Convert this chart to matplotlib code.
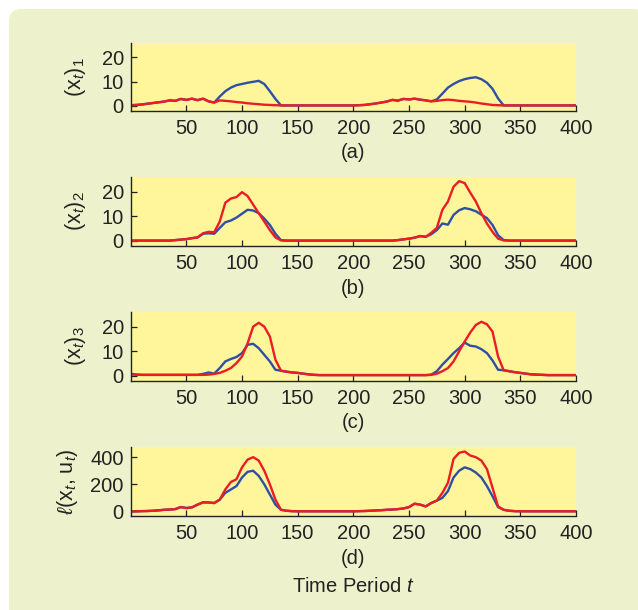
import matplotlib
matplotlib.use("Agg")
import matplotlib.pyplot as plt
from matplotlib.patches import FancyBboxPatch
import numpy as np

plt.rcParams["font.family"] = ["Liberation Sans", "DejaVu Sans"]
plt.rcParams["mathtext.fontset"] = "custom"
plt.rcParams["mathtext.rm"] = "Liberation Sans"
plt.rcParams["mathtext.it"] = "Liberation Sans:italic"

# time axis, every 5 periods
t = np.arange(0, 401, 5)

# (a) (x_t)_1
x1_red = ([0.2, 0.3, 0.5, 0.8, 1.1, 1.4, 1.7, 2.2, 2.0, 2.8, 2.4, 2.9, 2.3, 2.9, 1.8,
           1.3, 2.2, 2.0, 1.8, 1.5, 1.3, 1.0, 0.8, 0.6, 0.4, 0.3, 0.2, 0.1]
          + [0.1] * 13
          + [0.2, 0.3, 0.6, 0.9, 1.3, 1.7, 2.4, 2.1, 2.8, 2.6, 2.9, 2.5, 2.2, 1.8,
             2.0, 2.3, 2.5, 2.3, 2.0, 1.8, 1.6, 1.3, 0.9, 0.6, 0.3, 0.2, 0.1]
          + [0.1] * 13)
x1_blue = ([0.2, 0.3, 0.5, 0.8, 1.1, 1.4, 1.7, 2.2, 2.0, 2.8, 2.4, 2.9, 2.3, 2.9, 1.8,
            1.3, 3.8, 6.0, 7.5, 8.5, 9.0, 9.5, 9.9, 10.3, 9.0, 6.0, 2.8, 0.1]
           + [0.1] * 13
           + [0.2, 0.3, 0.6, 0.9, 1.3, 1.7, 2.4, 2.1, 2.8, 2.6, 2.9, 2.5, 2.2, 1.8,
              2.6, 5.0, 7.5, 9.0, 10.2, 11.0, 11.5, 11.8, 11.0, 9.5, 7.0, 3.0, 0.1]
           + [0.1] * 13)

# (b) (x_t)_2
x2_red = ([0.0] * 8
          + [0.2, 0.4, 0.6, 1.0, 1.3, 3.0, 3.6, 3.4, 7.8, 15.5, 17.2, 17.8, 19.8, 18.2,
             14.7, 11.2, 7.8, 4.3, 1.3, 0.1]
          + [0.0] * 20
          + [0.2, 0.5, 0.8, 1.2, 1.9, 1.5, 3.2, 5.2, 12.6, 16.0, 22.0, 24.3, 23.5, 19.6,
             16.0, 11.2, 7.0, 3.6, 0.8, 0.1]
          + [0.0] * 13)
x2_blue = ([0.0] * 8
           + [0.2, 0.4, 0.6, 1.0, 1.3, 2.8, 3.0, 2.8, 5.2, 7.5, 8.2, 9.4, 11.0, 12.6,
              12.3, 11.2, 9.0, 6.4, 2.8, 0.2]
           + [0.0] * 20
           + [0.2, 0.5, 0.8, 1.2, 1.8, 1.6, 2.6, 4.3, 7.0, 6.5, 10.5, 12.4, 13.3, 12.8,
              12.0, 10.6, 9.2, 6.4, 2.2, 0.2]
           + [0.0] * 13)

# (c) (x_t)_3
x3_red = ([0.5, 0.4] + [0.3] * 11
          + [0.3, 0.4, 0.7, 1.1, 2.0, 3.1, 5.1, 7.8, 13.2, 20.0, 21.6, 20.0, 16.0, 6.5,
             2.0, 1.6, 1.3, 1.1, 0.8, 0.5, 0.3]
          + [0.2] * 20
          + [0.3, 0.8, 1.8, 3.1, 5.8, 9.9, 13.9, 17.6, 20.7, 22.0, 21.0, 18.0, 7.8, 2.2,
             1.8, 1.4, 1.1, 0.8, 0.5, 0.4, 0.3]
          + [0.2] * 6)
x3_blue = ([0.8, 0.4] + [0.3] * 11
           + [0.7, 1.3, 0.8, 3.1, 5.8, 6.8, 7.6, 9.2, 12.6, 13.0, 11.2, 8.5, 5.8, 2.4,
              2.0, 1.6, 1.3, 1.1, 0.8, 0.5, 0.3]
           + [0.2] * 20
           + [0.4, 1.8, 4.5, 6.8, 9.2, 11.2, 13.5, 12.2, 11.9, 10.8, 9.2, 6.2, 2.4, 2.2,
              1.8, 1.4, 1.1, 0.8, 0.5, 0.4, 0.3]
           + [0.2] * 6)

# (d) l(x_t, u_t)
cost_red = ([0, 1, 2, 3, 5, 8, 12, 14, 17, 32, 25, 30, 50, 67, 66, 62, 87, 162, 217,
             237, 325, 382, 400, 375, 300, 200, 87, 12, 5, 2]
            + [1] * 11
            + [2, 3, 5, 7, 9, 12, 14, 17, 22, 32, 57, 50, 37, 62, 80, 137, 212, 387,
               432, 442, 412, 400, 375, 312, 175, 37, 12, 5, 2]
            + [1] * 11)
cost_blue = ([0, 1, 2, 3, 5, 8, 12, 14, 17, 32, 25, 30, 50, 67, 66, 62, 87, 137, 162,
              187, 250, 292, 300, 262, 200, 125, 50, 12, 5, 2]
             + [1] * 11
             + [2, 3, 5, 7, 9, 12, 14, 17, 22, 32, 57, 50, 37, 62, 80, 100, 150, 250,
                300, 325, 312, 287, 250, 187, 112, 32, 12, 5, 2]
             + [1] * 11)

panels = [
    (x1_blue, x1_red, r"(x$_t$)$_1$", (-2, 26), [0, 10, 20], "(a)"),
    (x2_blue, x2_red, r"(x$_t$)$_2$", (-2, 26), [0, 10, 20], "(b)"),
    (x3_blue, x3_red, r"(x$_t$)$_3$", (-2, 26), [0, 10, 20], "(c)"),
    (cost_blue, cost_red, r"$\ell$(x$_t$, u$_t$)", (-30, 475), [0, 200, 400], "(d)"),
]

green = "#EDF2CC"
yellow = "#FFF59B"
blue = "#2F4FA6"
red = "#EC1C24"
ink = "#222222"
fs = 14.5

fig = plt.figure(figsize=(6.38, 6.10), dpi=100)
fig.patch.set_facecolor("white")
bg = FancyBboxPatch((9 / 638, -0.05), 1.0, 1.05 - 9 / 610,
                    boxstyle="round,pad=0,rounding_size=0.02",
                    transform=fig.transFigure, facecolor=green, edgecolor="none",
                    zorder=-10)
fig.patches.append(bg)

tops = [43, 177, 312, 447]
bottoms = [110.5, 245.5, 380.5, 515.5]
label_y = [153, 289, 423, 558]
left = 130.7 / 638
width = (576 - 130.7) / 638

for i, (yb, yr, ylab, ylim, yticks, tag) in enumerate(panels):
    ax = fig.add_axes([left, 1 - bottoms[i] / 610, width,
                       (bottoms[i] - tops[i]) / 610])
    ax.set_facecolor(yellow)
    ax.plot(t, yb, color=blue, lw=1.7)
    ax.plot(t, yr, color=red, lw=1.7)
    ax.set_xlim(0, 400)
    ax.set_ylim(*ylim)
    ax.set_xticks([50, 100, 150, 200, 250, 300, 350, 400])
    ax.set_yticks(yticks)
    ax.spines["top"].set_visible(False)
    ax.spines["right"].set_visible(False)
    for s in ["left", "bottom"]:
        ax.spines[s].set_color(ink)
        ax.spines[s].set_linewidth(1.0)
    ax.tick_params(direction="in", length=4, width=0.9, color=ink,
                   labelsize=fs, labelcolor=ink)
    ax.tick_params(axis="x", pad=6)
    ax.tick_params(axis="y", pad=5)
    ax.set_ylabel(ylab, fontsize=15.5, color=ink, va="center")
    ax.yaxis.set_label_coords(-0.125 if i < 3 else -0.143, 0.5)
    fig.text(353.4 / 638, 1 - label_y[i] / 610, tag, ha="center", va="center",
             fontsize=fs, color=ink)

fig.text(353.4 / 638, 1 - 587 / 610, "Time Period $t$", ha="center", va="center",
         fontsize=fs, color=ink)

fig.savefig("out.png", dpi=100, facecolor=fig.get_facecolor())
